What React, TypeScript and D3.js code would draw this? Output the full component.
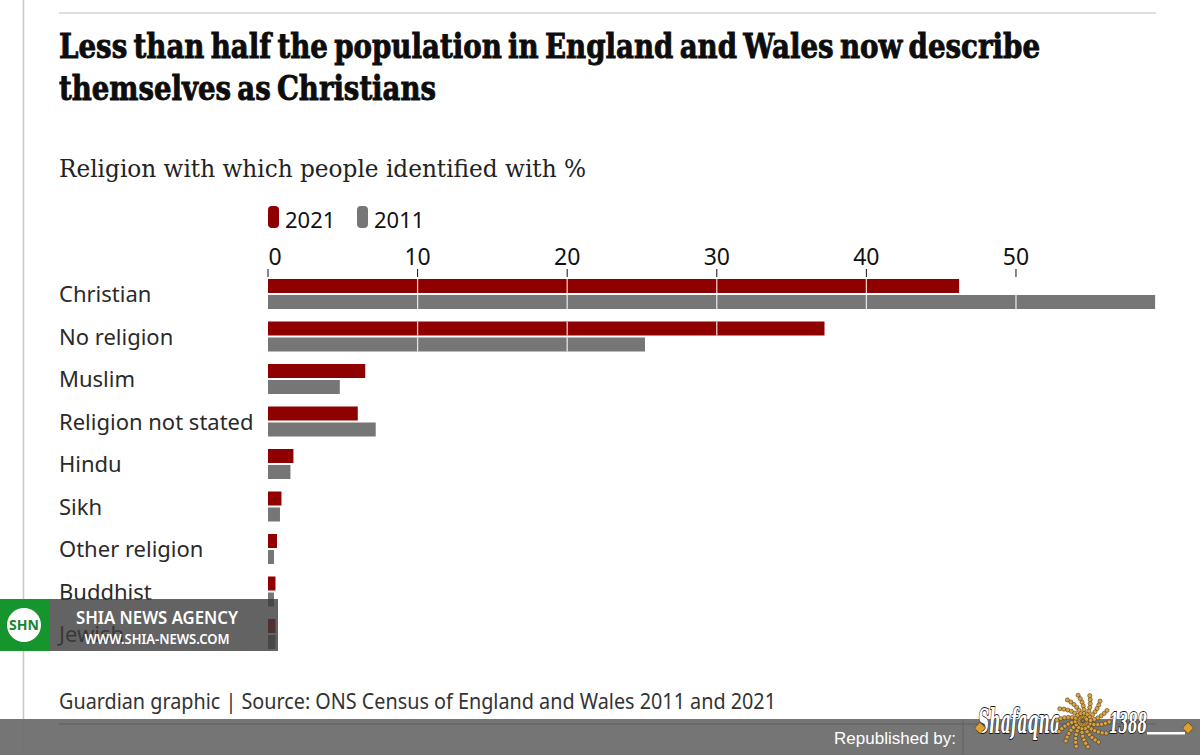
import * as d3 from "d3";

const categories = ["Christian", "No religion", "Muslim", "Religion not stated", "Hindu", "Sikh", "Other religion", "Buddhist", "Jewish"];
const values2021 = [46.2, 37.2, 6.5, 6.0, 1.7, 0.9, 0.6, 0.5, 0.5];
const values2011 = [59.3, 25.2, 4.8, 7.2, 1.5, 0.8, 0.4, 0.4, 0.5];
const xTicks = [0, 10, 20, 30, 40, 50];
const gridTicks = [10, 20, 30, 40, 50];
const titleLines = ["Less than half the population in England and Wales now describe", "themselves as Christians"];
const seriesLegend = ["2021", "2011"];

const RED = "#8f0000";
const GREY = "#767676";
const SANS = "'Noto Sans', 'Open Sans', sans-serif";
const SERIF = "'DejaVu Serif', serif";

const x = d3.scaleLinear().domain([0, 59.36]).range([268, 1156]);
const y = d3.scaleBand().domain(categories).range([273.5, 656]).paddingInner(0).paddingOuter(0);

const spiralArms = d3.range(14);
const spiralDots = d3.range(7);

export default function App() {
  return (
    <svg width={1200} height={755} viewBox="0 0 1200 755" style={{ position: "absolute", left: 0, top: 0, background: "#fff" }}>
      <line x1={23.5} x2={23.5} y1={0} y2={755} stroke="#c8c8c8" strokeWidth={1.5} />
      <line x1={59} x2={1156} y1={13} y2={13} stroke="#bdbdbd" />

      {titleLines.map((t, i) => (
        <text key={t} x={59} y={58 + i * 42} fontFamily={SERIF} fontWeight={700} fontSize={33} fill="#0d0d0d"
          stroke="#0d0d0d" strokeWidth={0.9} wordSpacing={-4}
          textLength={i === 0 ? 981 : 377} lengthAdjust="spacingAndGlyphs">
          {t}
        </text>
      ))}
      <text x={59} y={177} fontFamily={SERIF} fontSize={24} fill="#222" textLength={527} lengthAdjust="spacingAndGlyphs">
        Religion with which people identified with %
      </text>

      {/* legend */}
      {seriesLegend.map((s, i) => {
        const lx = i === 0 ? 268 : 357;
        return (
          <g key={s}>
            <rect x={lx} y={206} width={11} height={22} rx={4} fill={i === 0 ? RED : GREY} />
            <text x={lx + 17} y={228} fontFamily={SANS} fontSize={22} fill="#121212">{s}</text>
          </g>
        );
      })}

      {/* axis labels and ticks */}
      {xTicks.map((t) => (
        <g key={t}>
          <line x1={x(t)} x2={x(t)} y1={269} y2={277} stroke="#121212" strokeWidth={1} />
          <text x={t === 0 ? x(t) + 7 : x(t)} y={265} textAnchor="middle" fontFamily={SANS} fontSize={23} fill="#121212">{t}</text>
        </g>
      ))}

      {/* rows */}
      {categories.map((c, i) => {
        const top = y(c)! + 5.5;
        return (
          <g key={c}>
            <text x={59} y={top + 23} fontFamily={SANS} fontSize={22} fill="#2a2a2a">{c}</text>
            <rect x={x(0)} y={top} width={x(values2021[i]) - x(0)} height={14} fill={RED} />
            <rect x={x(0)} y={top + 16} width={x(values2011[i]) - x(0)} height={14} fill={GREY} />
          </g>
        );
      })}

      {/* white gridlines cut through the long bars */}
      {gridTicks.map((t) => (
        <g key={t}>
          {categories.map((c, i) => {
            const top = y(c)! + 5.5;
            return (
              <g key={c}>
                {values2021[i] > t && <line x1={x(t)} x2={x(t)} y1={top} y2={top + 14} stroke="#fff" strokeOpacity={0.8} strokeWidth={1.3} />}
                {values2011[i] > t && <line x1={x(t)} x2={x(t)} y1={top + 16} y2={top + 30} stroke="#fff" strokeOpacity={0.8} strokeWidth={1.3} />}
              </g>
            );
          })}
        </g>
      ))}

      <text x={59} y={709} fontFamily={SANS} fontSize={21} fill="#333" textLength={717} lengthAdjust="spacingAndGlyphs">
        Guardian graphic | Source: ONS Census of England and Wales 2011 and 2021
      </text>

      {/* agency watermark */}
      <rect x={49} y={599} width={229} height={52} fill="#3c3c3c" fillOpacity={0.8} />
      <rect x={0} y={599} width={49} height={52} fill="#16952f" />
      <circle cx={24} cy={625} r={17} fill="#fff" />
      <text x={24} y={630} textAnchor="middle" fontFamily={SANS} fontWeight={700} fontSize={14} fill="#16852f">SHN</text>
      <text x={157} y={624} textAnchor="middle" fontFamily={SANS} fontWeight={600} fontSize={18} fill="#fff" textLength={162} lengthAdjust="spacingAndGlyphs">SHIA NEWS AGENCY</text>
      <text x={157} y={644} textAnchor="middle" fontFamily={SANS} fontWeight={600} fontSize={14} fill="#fff" textLength={145} lengthAdjust="spacingAndGlyphs">WWW.SHIA-NEWS.COM</text>

      {/* republisher strip */}
      <rect x={0} y={719} width={1200} height={36} fill="#6e6e6e" fillOpacity={0.95} />
      <line x1={59} x2={1156} y1={724} y2={724} stroke="#5e5e5e" />
      <line x1={963} x2={963} y1={719} y2={755} stroke="#626262" />
      <text x={956} y={744} textAnchor="end" fontFamily="'Liberation Sans', sans-serif" fontSize={17} fill="#fff">Republished by:</text>

      {/* logo */}
      <text x={978} y={733} fontFamily={SERIF} fontWeight={700} fontStyle="italic" fontSize={34} fill="#fff" stroke="#1b1b1b" strokeWidth={2} paintOrder="stroke"
        textLength={82} lengthAdjust="spacingAndGlyphs">Shafaqna</text>
      {spiralArms.map((a) => (
        <g key={a}>
          {spiralDots.map((d) => {
            const angle = (a / 14) * 2 * Math.PI + d * 0.38;
            const r = 4 + d * 3.7;
            return (
              <circle key={d} cx={1083 + r * Math.cos(angle)} cy={721 + r * Math.sin(angle)} r={2.1} fill="#d9a441" stroke="#3a2a10" strokeWidth={0.5} />
            );
          })}
        </g>
      ))}
      <text x={1109} y={733} fontFamily={SERIF} fontWeight={700} fontStyle="italic" fontSize={27} fill="#fff" stroke="#1b1b1b" strokeWidth={2} paintOrder="stroke"
        textLength={38} lengthAdjust="spacingAndGlyphs">1388</text>
      <rect x={1147} y={732} width={38} height={2.5} fill="#fff" />
      <rect x={1184} y={724} width={8} height={8} transform="rotate(45 1188 728)" fill="#e0a030" stroke="#1b1b1b" strokeWidth={0.5} />
      <rect x={976} y={724} width={8} height={8} transform="rotate(45 980 728)" fill="#e0a030" stroke="#1b1b1b" strokeWidth={0.5} />
    </svg>
  );
}
